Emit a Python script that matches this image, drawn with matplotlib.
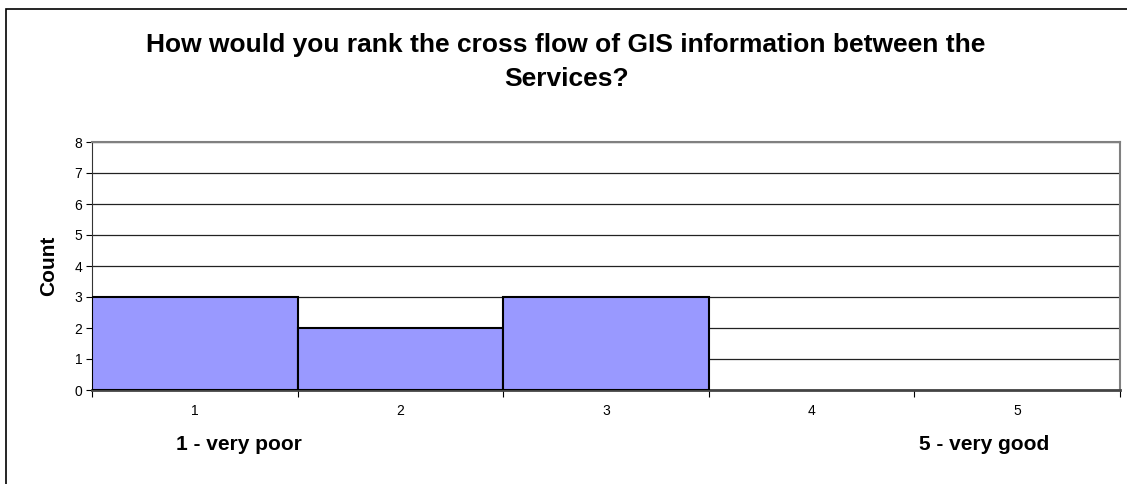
import matplotlib.pyplot as plt
from matplotlib.patches import Rectangle

plt.rcParams['font.family'] = ['Liberation Sans', 'DejaVu Sans']

# survey answers
ratings = [1, 2, 3, 4, 5]
counts = [3, 2, 3, 0, 0]
tick_labels = ['1', '2', '3', '4', '5']

fig = plt.figure(figsize=(11.27, 4.84), dpi=100)
ax = fig.add_axes([92/1127, 1-390/484, (1120-92)/1127, (390-142)/484])

# Excel leaves empty categories blank, so no outline for zero counts
edges = ['black' if c > 0 else 'none' for c in counts]
ax.bar(ratings, counts, width=1.0, color='#9999FF', edgecolor=edges, linewidth=1.5, zorder=3)

ax.set_xlim(0.5, 5.5)
ax.set_ylim(0, 8)
ax.set_yticks(range(0, 9))
ax.tick_params(axis='y', labelsize=10, length=4, direction='out', pad=3)
ax.yaxis.grid(True, color='#222222', linewidth=0.9, zorder=0)

# boundary ticks, labels in the middle
ax.set_xticks([r - 0.5 for r in ratings] + [5.5])
ax.set_xticklabels([])
ax.set_xticks(ratings, minor=True)
ax.set_xticklabels(tick_labels, minor=True)
ax.tick_params(axis='x', which='major', length=5, direction='out')
ax.tick_params(axis='x', which='minor', length=0, labelsize=10, pad=10)

for s in ['top', 'right']:
    ax.spines[s].set_color('#808080')
    ax.spines[s].set_linewidth(1.5)
ax.spines['left'].set_color('#333333')
ax.spines['bottom'].set_color('#444444')
ax.spines['bottom'].set_linewidth(2)

ax.set_ylabel('Count', fontsize=15, fontweight='bold', labelpad=12)

fig.text(566/1127, 1-45/484, 'How would you rank the cross flow of GIS information between the',
         ha='center', va='center', fontsize=19, fontweight='bold')
fig.text(567/1127, 1-79/484, 'Services?', ha='center', va='center', fontsize=19, fontweight='bold')

fig.text(239/1127, 1-445/484, '1 - very poor', ha='center', va='center', fontsize=15, fontweight='bold')
fig.text(984/1127, 1-445/484, '5 - very good', ha='center', va='center', fontsize=15, fontweight='bold')

# chart area border running off the right and bottom edges
fig.patches.append(Rectangle((6/1127, -0.05), 1.2, 1-9/484+0.05, transform=fig.transFigure,
                             fill=False, edgecolor='black', linewidth=1.2))

fig.savefig('out.png', dpi=100)
